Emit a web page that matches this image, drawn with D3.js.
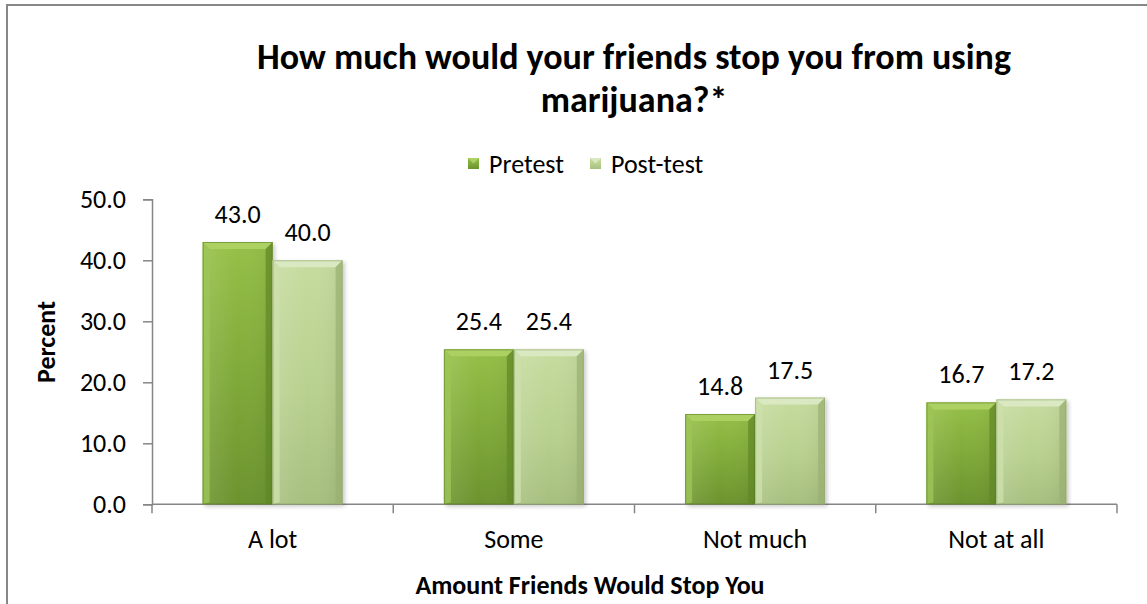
<!DOCTYPE html>
<html>
<head>
<meta charset="utf-8">
<script src="https://cdnjs.cloudflare.com/ajax/libs/d3/7.8.5/d3.min.js"></script>
<style>
  html, body { margin: 0; padding: 0; background: #fff; }
  svg { display: block; }
  text { font-family: Carlito, Lato, "Noto Sans", sans-serif; fill: #000; }
</style>
</head>
<body>
<svg id="chart" width="1147" height="604"></svg>
<script>
// Survey responses, percent of respondents
const categories = ["A lot", "Some", "Not much", "Not at all"];
const seriesNames = ["Pretest", "Post-test"];
const pretest = [43.0, 25.4, 14.8, 16.7];
const posttest = [40.0, 25.4, 17.5, 17.2];
const yTicks = [0, 10, 20, 30, 40, 50];
const titleLines = ["How much would your friends stop you from using", "marijuana?*"];

const seriesValues = [pretest, posttest];
const svg = d3.select("#chart");
const W = 1147, H = 604;
const FONT = "Carlito, Lato, 'Noto Sans', sans-serif";

// Outer chart frame
svg.append("rect")
  .attr("x", 7).attr("y", 5)
  .attr("width", W + 10).attr("height", H + 10)
  .attr("fill", "#fff").attr("stroke", "#878787").attr("stroke-width", 2);

const plot = { left: 152, right: 1117, top: 199.3, bottom: 504.3 };

const y = d3.scaleLinear().domain([0, 50]).range([plot.bottom, plot.top]);
const x0 = d3.scaleBand().domain(categories)
  .range([plot.left, plot.right]).paddingInner(0.42).paddingOuter(0.21);
const x1 = d3.scaleBand().domain(seriesNames).range([0, x0.bandwidth()]);

// Gradients for the bevelled bars
const defs = svg.append("defs");
const palettes = {
  "Pretest":   { body: ["#95c047", "#7ea838", "#6b932e"], top: "#add064", left: "#9cc655", right: "#608727", edge: "#5c7f27" },
  "Post-test": { body: ["#c6dc9f", "#b8d08f", "#a7bf7f"], top: "#dbe9c3", left: "#cde0ab", right: "#9ab172", edge: "#93a96e" }
};
seriesNames.forEach((s, i) => {
  const p = palettes[s];
  const g = defs.append("linearGradient").attr("id", "body" + i)
    .attr("x1", 0).attr("y1", 0).attr("x2", 0).attr("y2", 1);
  g.append("stop").attr("offset", "0%").attr("stop-color", p.body[0]);
  g.append("stop").attr("offset", "55%").attr("stop-color", p.body[1]);
  g.append("stop").attr("offset", "100%").attr("stop-color", p.body[2]);
  const h = defs.append("linearGradient").attr("id", "side" + i)
    .attr("x1", 0).attr("y1", 0).attr("x2", 1).attr("y2", 0);
  h.append("stop").attr("offset", "0%").attr("stop-color", "#fff").attr("stop-opacity", 0.12);
  h.append("stop").attr("offset", "50%").attr("stop-color", "#fff").attr("stop-opacity", 0);
  h.append("stop").attr("offset", "100%").attr("stop-color", "#000").attr("stop-opacity", 0.06);
});
const shadow = defs.append("filter").attr("id", "shadow")
  .attr("x", "-10%").attr("y", "-10%").attr("width", "130%").attr("height", "130%");
shadow.append("feGaussianBlur").attr("in", "SourceAlpha").attr("stdDeviation", 2.2);
shadow.append("feOffset").attr("dx", 2).attr("dy", 2).attr("result", "b");
shadow.append("feComponentTransfer").append("feFuncA").attr("type", "linear").attr("slope", 0.22);
const merge = shadow.append("feMerge");
merge.append("feMergeNode");
merge.append("feMergeNode").attr("in", "SourceGraphic");

// Title
svg.append("g").selectAll("text").data(titleLines).join("text")
  .attr("x", 634).attr("y", (d, i) => 69 + i * 43)
  .attr("text-anchor", "middle")
  .style("font-size", "36px").style("font-weight", "bold")
  .text(d => d);

// Legend
const legend = svg.append("g");
const legendX = [468, 590];
seriesNames.forEach((s, i) => {
  const p = palettes[s];
  const lg = legend.append("g").attr("transform", `translate(${legendX[i]},158)`);
  lg.append("rect").attr("width", 11).attr("height", 11).attr("fill", `url(#body${i})`);
  lg.append("path").attr("d", "M0,0 L11,0 L5.5,5.5 Z").attr("fill", p.top);
  lg.append("text").attr("x", 21).attr("y", 5.5).attr("dy", "0.35em")
    .style("font-size", "26px").text(s);
});

// Axes
const axisColor = "#868686";
const yAxis = svg.append("g").attr("transform", `translate(${plot.left},0)`)
  .call(d3.axisLeft(y).tickValues(yTicks).tickFormat(d3.format(".1f")).tickSizeInner(9).tickSizeOuter(9).tickPadding(17));
yAxis.select(".domain").attr("stroke", axisColor).attr("stroke-width", 1.5);
yAxis.selectAll(".tick line").attr("stroke", axisColor).attr("stroke-width", 1.5);
yAxis.selectAll(".tick text").style("font-size", "26px").style("font-family", FONT).attr("fill", "#000");

// Category boundary ticks along the x axis
const xg = svg.append("g");
xg.append("line").attr("x1", plot.left).attr("x2", plot.right)
  .attr("y1", plot.bottom).attr("y2", plot.bottom)
  .attr("stroke", axisColor).attr("stroke-width", 1.5);
const boundaries = d3.range(categories.length + 1).map(i => plot.left + i * x0.step());
xg.selectAll("line.tk").data(boundaries).join("line").attr("class", "tk")
  .attr("x1", d => d).attr("x2", d => d)
  .attr("y1", plot.bottom).attr("y2", plot.bottom + 9)
  .attr("stroke", axisColor).attr("stroke-width", 1.5);
xg.selectAll("text.cat").data(categories).join("text").attr("class", "cat")
  .attr("x", d => x0(d) + x0.bandwidth() / 2).attr("y", 548)
  .attr("text-anchor", "middle").style("font-size", "26px").text(d => d);

// Axis titles
svg.append("text").attr("transform", "translate(55,342) rotate(-90)")
  .attr("text-anchor", "middle").style("font-size", "26px").style("font-weight", "bold")
  .text("Percent");
svg.append("text").attr("x", 590).attr("y", 594)
  .attr("text-anchor", "middle").style("font-size", "26px").style("font-weight", "bold")
  .text("Amount Friends Would Stop You");

// Bars
const rows = [];
categories.forEach((c, ci) => seriesNames.forEach((s, si) => rows.push({ c, s, si, v: seriesValues[si][ci] })));

const bars = svg.append("g").selectAll("g.bar").data(rows).join("g").attr("class", "bar")
  .attr("filter", "url(#shadow)");
bars.each(function (d) {
  const g = d3.select(this);
  const p = palettes[d.s];
  const bx = x0(d.c) + x1(d.s), bw = x1.bandwidth();
  const by = y(d.v), bh = y(0) - y(d.v);
  const b = 7; // bevel depth
  g.append("rect").attr("x", bx).attr("y", by).attr("width", bw).attr("height", bh)
    .attr("fill", `url(#body${d.si})`);
  g.append("rect").attr("x", bx).attr("y", by).attr("width", bw).attr("height", bh)
    .attr("fill", `url(#side${d.si})`);
  // top bevel
  g.append("path").attr("d", `M${bx},${by} L${bx + bw},${by} L${bx + bw - b},${by + b} L${bx + b},${by + b} Z`)
    .attr("fill", p.top);
  // left bevel
  g.append("path").attr("d", `M${bx},${by} L${bx + b},${by + b} L${bx + b},${by + bh - 2} L${bx},${by + bh} Z`)
    .attr("fill", p.left).attr("opacity", 0.8);
  // right bevel
  g.append("path").attr("d", `M${bx + bw},${by} L${bx + bw - b},${by + b} L${bx + bw - b},${by + bh - 2} L${bx + bw},${by + bh} Z`)
    .attr("fill", p.right).attr("opacity", 0.7);
  g.append("rect").attr("x", bx + 0.5).attr("y", by + 0.5).attr("width", bw - 1).attr("height", bh - 1)
    .attr("fill", "none").attr("stroke", p.edge).attr("stroke-width", 1).attr("opacity", 0.6);
});

// Value labels
svg.append("g").selectAll("text").data(rows).join("text")
  .attr("x", d => x0(d.c) + x1(d.s) + x1.bandwidth() / 2)
  .attr("y", d => y(d.v) - 19)
  .attr("text-anchor", "middle").style("font-size", "26px")
  .text(d => d.v.toFixed(1));
</script>
</body>
</html>
